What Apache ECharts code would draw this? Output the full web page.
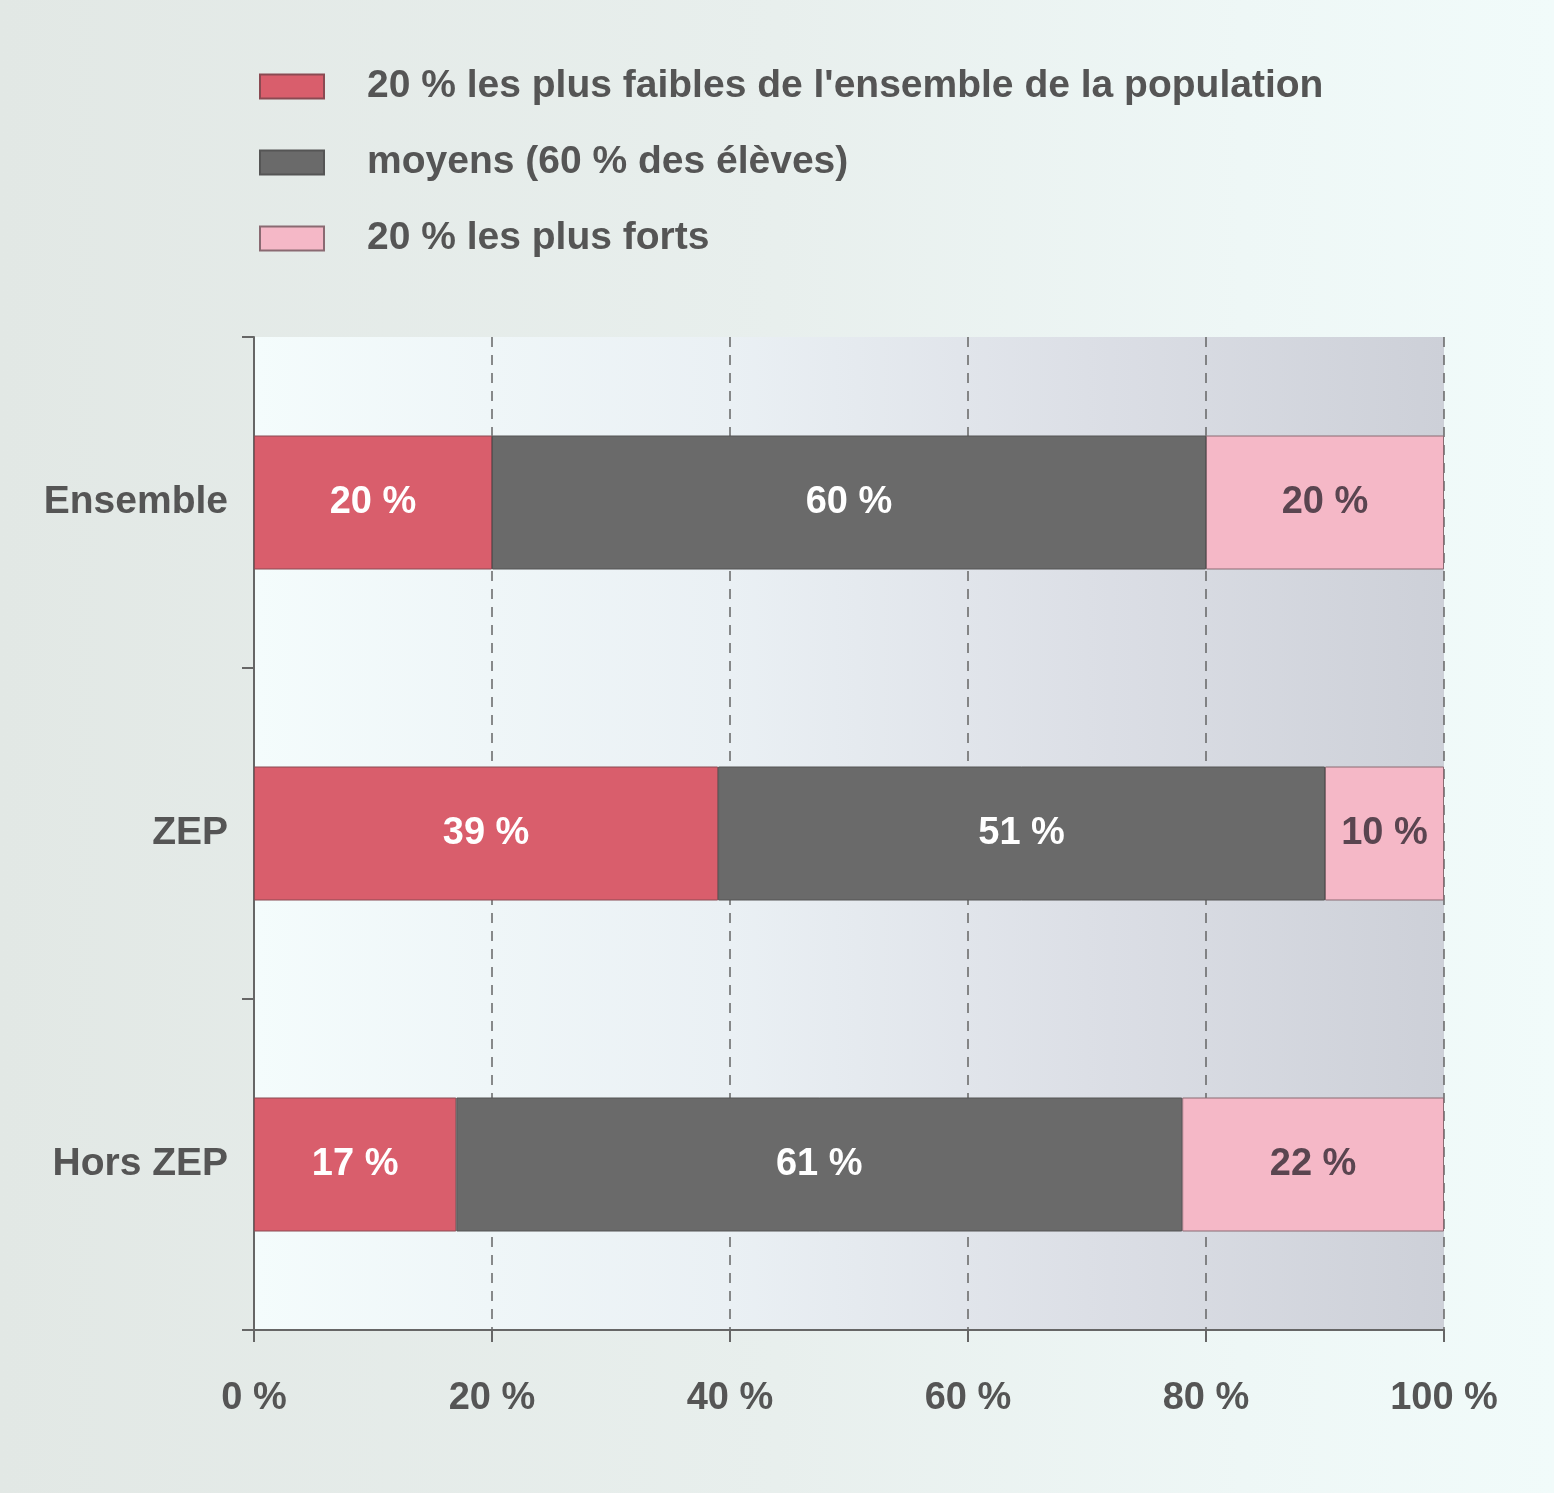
<!DOCTYPE html>
<html><head><meta charset="utf-8">
<script src="https://cdn.jsdelivr.net/npm/echarts@6/dist/echarts.min.js"></script>
<style>
html,body{margin:0;padding:0;}
body{width:1554px;height:1493px;background:linear-gradient(90deg,#e2e8e5 0%,#e8efed 50%,#eef7f6 80%,#f1fbfa 100%);}
#c{width:1554px;height:1493px;}
</style></head><body>
<div id="c"></div>
<script>
const categories = ['Ensemble', 'ZEP', 'Hors ZEP'];
const seriesNames = ["20 % les plus faibles de l'ensemble de la population", 'moyens (60 % des élèves)', '20 % les plus forts'];
const faibles = [20, 39, 17];
const moyens = [60, 51, 61];
const forts = [20, 10, 22];
const xTicks = [0, 20, 40, 60, 80, 100];

const FONT = '"Liberation Sans Narrow","Arial Narrow","Liberation Sans",Arial,sans-serif';
const chart = echarts.init(document.getElementById('c'), null, {renderer: 'canvas'});
const lbl = (color) => ({show: true, position: 'inside', formatter: p => p.value + ' %', color: color, fontFamily: FONT, fontWeight: 'bold', fontSize: 38});
chart.setOption({
  backgroundColor: 'transparent',
  animation: false,
  legend: {
    orient: 'vertical', left: 254, top: 62, itemWidth: 64, itemHeight: 24, itemGap: 37,
    icon: 'rect',
    textStyle: {fontFamily: FONT, fontWeight: 'bold', fontSize: 39, color: '#555', padding: [0, 0, 0, 38]},
    data: seriesNames
  },
  grid: {
    left: 254, right: 110, top: 337, bottom: 163, show: true, borderWidth: 0,
    backgroundColor: new echarts.graphic.LinearGradient(0, 0, 1, 0, [
      {offset: 0, color: '#f4fcfc'}, {offset: 0.4, color: '#eaf0f4'}, {offset: 0.7, color: '#dcdfe6'}, {offset: 1, color: '#cdd0d8'}
    ])
  },
  xAxis: {
    type: 'value', min: 0, max: 100, interval: 20,
    axisLine: {show: true, lineStyle: {color: '#666', width: 2}},
    axisTick: {show: true, length: 12, lineStyle: {color: '#666', width: 2}},
    axisLabel: {formatter: v => v + ' %', margin: 50, fontFamily: FONT, fontWeight: 'bold', fontSize: 38, color: '#555'},
    splitLine: {show: true, lineStyle: {color: '#666', type: [10, 8], width: 1.5}}
  },
  yAxis: {
    type: 'category', inverse: true, data: categories,
    axisLine: {show: true, lineStyle: {color: '#666', width: 2}},
    axisTick: {show: true, length: 12, lineStyle: {color: '#666', width: 2}},
    axisLabel: {margin: 26, fontFamily: FONT, fontWeight: 'bold', fontSize: 39, color: '#555'}
  },
  series: [
    {name: seriesNames[0], type: 'bar', stack: 's', data: faibles, barWidth: 134,
     itemStyle: {color: '#d95e6c', borderColor: '#8a4a52', borderWidth: 1}, label: lbl('#fff')},
    {name: seriesNames[1], type: 'bar', stack: 's', data: moyens, barWidth: 134,
     itemStyle: {color: '#6a6a6a', borderColor: '#555', borderWidth: 1}, label: lbl('#fff')},
    {name: seriesNames[2], type: 'bar', stack: 's', data: forts, barWidth: 134,
     itemStyle: {color: '#f5b8c7', borderColor: '#8a6a72', borderWidth: 1}, label: lbl('#5a4550')}
  ]
});
</script></body></html>
